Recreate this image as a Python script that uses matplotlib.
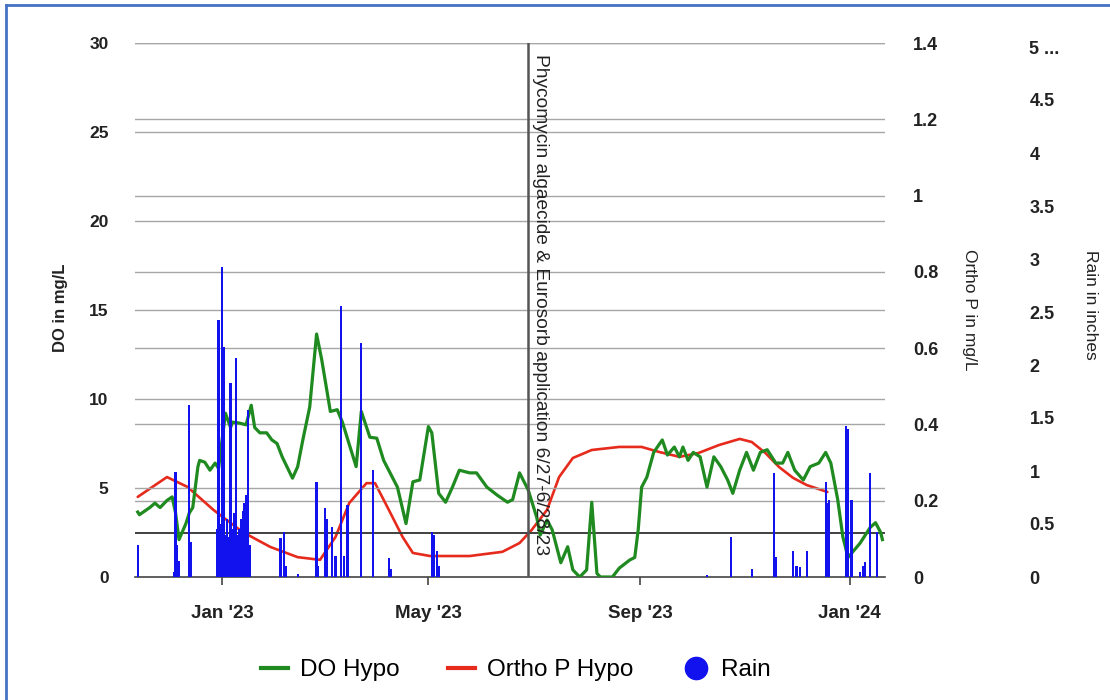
import pandas as pd
import matplotlib.pyplot as plt
import matplotlib.dates as mdates
from matplotlib.lines import Line2D

# dados
do_dates = ["2022-11-13", "2022-11-14", "2022-11-20", "2022-11-23", "2022-11-26", "2022-11-30",
            "2022-12-03", "2022-12-05", "2022-12-07", "2022-12-11", "2022-12-13", "2022-12-15",
            "2022-12-18", "2022-12-19", "2022-12-22", "2022-12-25", "2022-12-28", "2022-12-30",
            "2022-12-31", "2023-01-03", "2023-01-06", "2023-01-07", "2023-01-11", "2023-01-15",
            "2023-01-18", "2023-01-20", "2023-01-23", "2023-01-27", "2023-01-30", "2023-02-02",
            "2023-02-05", "2023-02-11", "2023-02-14", "2023-02-17", "2023-02-21", "2023-02-25",
            "2023-02-28", "2023-03-05", "2023-03-09", "2023-03-12", "2023-03-20", "2023-03-23",
            "2023-03-28", "2023-04-01", "2023-04-05", "2023-04-13", "2023-04-18", "2023-04-22",
            "2023-04-26", "2023-05-01", "2023-05-03", "2023-05-07", "2023-05-11", "2023-05-15",
            "2023-05-19", "2023-05-25", "2023-05-29", "2023-06-04", "2023-06-10", "2023-06-16",
            "2023-06-19", "2023-06-23", "2023-06-28", "2023-07-03", "2023-07-05", "2023-07-09",
            "2023-07-12", "2023-07-17", "2023-07-21", "2023-07-24", "2023-07-28", "2023-08-01",
            "2023-08-04", "2023-08-07", "2023-08-09", "2023-08-16", "2023-08-20", "2023-08-26",
            "2023-08-29", "2023-08-31", "2023-09-02", "2023-09-05", "2023-09-09", "2023-09-14",
            "2023-09-17", "2023-09-21", "2023-09-24", "2023-09-26", "2023-09-29", "2023-10-02",
            "2023-10-06", "2023-10-10", "2023-10-14", "2023-10-18", "2023-10-22", "2023-10-25",
            "2023-10-29", "2023-11-02", "2023-11-06", "2023-11-10", "2023-11-14", "2023-11-19",
            "2023-11-23", "2023-11-26", "2023-11-30", "2023-12-05", "2023-12-09", "2023-12-14",
            "2023-12-18", "2023-12-21", "2023-12-25", "2023-12-28", "2023-12-31", "2024-01-07",
            "2024-01-13", "2024-01-16", "2024-01-19", "2024-01-20"]
do_vals = [3.65, 3.5, 3.9, 4.15, 3.9, 4.3,
           4.5, 3.6, 2.1, 3.0, 3.6, 3.9,
           6.2, 6.55, 6.45, 6.0, 6.4, 6.1,
           6.9, 9.2, 8.4, 8.7, 8.65, 8.55,
           9.65, 8.4, 8.1, 8.1, 7.7, 7.5,
           6.75, 5.55, 6.2, 7.7, 9.55, 13.65,
           12.2, 9.3, 9.4, 8.7, 6.2, 9.3,
           7.85, 7.8, 6.55, 5.05, 3.0, 5.35,
           5.45, 8.45, 8.1, 4.7, 4.2, 5.05,
           6.0, 5.85, 5.85, 5.05, 4.6, 4.2,
           4.35, 5.85, 4.9, 3.35, 2.35, 3.2,
           2.65, 0.8, 1.7, 0.4, 0.0, 0.4,
           4.2, 0.2, 0.0, 0.0, 0.5, 0.95,
           1.1, 2.65, 5.05, 5.6, 7.0, 7.7,
           6.85, 7.3, 6.75, 7.3, 6.55, 7.0,
           6.75, 5.05, 6.75, 6.2, 5.45, 4.7,
           6.0, 7.0, 6.0, 7.0, 7.15, 6.4,
           6.4, 7.0, 6.0, 5.45, 6.2, 6.4,
           7.0, 6.4, 4.35, 2.25, 1.1, 1.9,
           2.8, 3.05, 2.5, 2.1]

op_dates = ["2022-11-13", "2022-11-30", "2022-12-12", "2022-12-27", "2023-01-13", "2023-01-29",
            "2023-02-14", "2023-02-27", "2023-03-08", "2023-03-16", "2023-03-26", "2023-03-31",
            "2023-04-08", "2023-04-16", "2023-04-22", "2023-05-02", "2023-05-25", "2023-06-13",
            "2023-06-23", "2023-06-30", "2023-07-09", "2023-07-16", "2023-07-24", "2023-08-04",
            "2023-08-20", "2023-09-02", "2023-09-12", "2023-09-24", "2023-10-05", "2023-10-17",
            "2023-10-29", "2023-11-05", "2023-11-13", "2023-11-21", "2023-11-29", "2023-12-07",
            "2023-12-19"]
op_vals = [0.21, 0.262, 0.236, 0.176, 0.118, 0.079,
           0.052, 0.045, 0.105, 0.194, 0.246, 0.246,
           0.176, 0.105, 0.063, 0.055, 0.055, 0.066,
           0.089, 0.123, 0.176, 0.262, 0.312, 0.333,
           0.341, 0.341, 0.328, 0.315, 0.325, 0.346,
           0.362, 0.354, 0.325, 0.288, 0.260, 0.241,
           0.223]

rain_dates = ["2022-11-13", "2022-12-04", "2022-12-05", "2022-12-06", "2022-12-07", "2022-12-13",
              "2022-12-14", "2022-12-29", "2022-12-30", "2022-12-31", "2023-01-01", "2023-01-02",
              "2023-01-03", "2023-01-04", "2023-01-05", "2023-01-06", "2023-01-07", "2023-01-08",
              "2023-01-09", "2023-01-10", "2023-01-11", "2023-01-12", "2023-01-13", "2023-01-14",
              "2023-01-15", "2023-01-16", "2023-01-17", "2023-02-04", "2023-02-06", "2023-02-07",
              "2023-02-14", "2023-02-25", "2023-02-26", "2023-03-02", "2023-03-03", "2023-03-06",
              "2023-03-08", "2023-03-11", "2023-03-13", "2023-03-15", "2023-03-23", "2023-03-30",
              "2023-04-08", "2023-04-09", "2023-05-03", "2023-05-04", "2023-05-06", "2023-05-07",
              "2023-10-10", "2023-10-24", "2023-11-05", "2023-11-18", "2023-11-19", "2023-11-29",
              "2023-12-01", "2023-12-03", "2023-12-07", "2023-12-18", "2023-12-19", "2023-12-20",
              "2023-12-30", "2023-12-31", "2024-01-02", "2024-01-07", "2024-01-09", "2024-01-10",
              "2024-01-13", "2024-01-17"]
rain_vals = [0.30, 0.05, 0.99, 0.30, 0.15, 1.62,
             0.33, 0.45, 2.42, 0.50, 2.92, 2.17,
             0.40, 0.55, 0.38, 1.83, 0.45, 0.60,
             2.07, 0.40, 0.45, 0.55, 0.62, 0.70,
             0.77, 1.58, 0.30, 0.37, 0.42, 0.10,
             0.03, 0.90, 0.10, 0.65, 0.55, 0.47,
             0.20, 2.56, 0.20, 0.68, 2.21, 1.01,
             0.18, 0.08, 0.42, 0.40, 0.25, 0.10,
             0.02, 0.38, 0.08, 0.98, 0.19, 0.25,
             0.10, 0.09, 0.25, 0.90, 0.70, 0.73,
             1.42, 1.40, 0.73, 0.05, 0.10, 0.14,
             0.98, 0.42]

do_ticks = [0, 5, 10, 15, 20, 25, 30]
op_ticks = [0, 0.2, 0.4, 0.6, 0.8, 1, 1.2, 1.4]
op_labels = ["0", "0.2", "0.4", "0.6", "0.8", "1", "1.2", "1.4"]
rain_ticks = [0, 0.5, 1, 1.5, 2, 2.5, 3, 3.5, 4, 4.5, 5]
rain_labels = ["0", "0.5", "1", "1.5", "2", "2.5", "3", "3.5", "4", "4.5", "5 ..."]
x_ticks = ["2023-01-01", "2023-05-01", "2023-09-01", "2024-01-01"]
limite_do = 2.5
evento_data = "2023-06-28"
evento_texto = "Phycomycin algaecide & Eurosorb application 6/27-6/28/23"

plt.rcParams["font.family"] = ["Liberation Sans", "DejaVu Sans"]

verde = "#1f8a1f"
vermelho = "#e62a1c"
azul = "#1212ee"
cinza = "#a6a6a6"

fig = plt.figure(figsize=(11.1, 7), dpi=100)
ax = fig.add_axes([135 / 1110, 1 - 577 / 700, 750 / 1110, 534 / 700])
ax2 = ax.twinx()
ax3 = ax.twinx()

# ordem de desenho: fosforo embaixo, OD no meio, chuva por cima
ax2.set_zorder(0)
ax.set_zorder(1)
ax3.set_zorder(2)
ax.patch.set_visible(False)

# Ortho P
ax2.plot(pd.to_datetime(op_dates), op_vals, color=vermelho, lw=1.9, solid_capstyle="round")
ax2.set_ylim(0, 1.4)
ax2.set_yticks(op_ticks, op_labels)
for t in op_ticks[1:]:
    ax2.axhline(t, color=cinza, lw=1, zorder=0)

# OD
for t in do_ticks[1:]:
    ax.axhline(t, color=cinza, lw=1, zorder=0)
ax.axhline(limite_do, color="#404040", lw=1.4, zorder=1)
ax.plot(pd.to_datetime(do_dates), do_vals, color=verde, lw=2.3, zorder=3,
        solid_joinstyle="round")
ax.axvline(pd.to_datetime(evento_data), color="#555555", lw=1.8, zorder=4)
ax.annotate(evento_texto, (pd.to_datetime(evento_data), 30), xytext=(3, -8),
            textcoords="offset points", rotation=-90, ha="left", va="top",
            fontsize=13.8, color="#222222")
ax.set_ylim(0, 30)
ax.set_yticks(do_ticks)

# chuva
ax3.bar(pd.to_datetime(rain_dates), rain_vals, width=1.3, color=azul, linewidth=0)
ax3.set_ylim(0, 5 * 534 / 530)
ax3.set_yticks(rain_ticks, rain_labels)

ax.set_xlim(pd.Timestamp("2022-11-11 10:00"), pd.Timestamp("2024-01-21 12:00"))
ax.set_xticks(pd.to_datetime(x_ticks))
ax.xaxis.set_major_formatter(mdates.DateFormatter("%b '%y"))

for a in (ax, ax2, ax3):
    for lado in ("top", "left", "right"):
        a.spines[lado].set_visible(False)
ax2.spines["bottom"].set_visible(False)
ax3.spines["bottom"].set_visible(False)
ax.spines["bottom"].set_color("#444444")
ax.spines["bottom"].set_linewidth(1.2)

ax.tick_params(axis="x", length=6, width=1.2, color="#444444", pad=14,
               labelsize=13.5, labelcolor="#222222")
ax.tick_params(axis="y", length=0, pad=19, labelsize=12.5, labelcolor="#222222")
ax2.tick_params(axis="y", length=0, pad=20, labelsize=13, labelcolor="#222222")
ax3.tick_params(axis="y", length=0, pad=104, labelsize=13, labelcolor="#222222")
for lab in ax.get_xticklabels() + ax.get_yticklabels() + ax2.get_yticklabels() + ax3.get_yticklabels():
    lab.set_fontweight("bold")

fig.text(60 / 1110, 1 - 308 / 700, "DO in mg/L", rotation=90, ha="center", va="center",
         fontsize=12, fontweight="bold", color="#222222")
fig.text(970 / 1110, 1 - 310 / 700, "Ortho P in mg/L", rotation=-90, ha="center", va="center",
         fontsize=12.5, color="#222222")
fig.text(1090 / 1110, 1 - 305 / 700, "Rain in inches", rotation=-90, ha="center", va="center",
         fontsize=12.5, color="#222222")

handles = [Line2D([], [], color=verde, lw=3),
           Line2D([], [], color=vermelho, lw=3),
           Line2D([], [], marker="o", color="none", markerfacecolor=azul,
                  markeredgecolor=azul, markersize=16)]
fig.legend(handles, ["DO Hypo", "Ortho P Hypo", "Rain"], loc="center",
           bbox_to_anchor=(516 / 1110, 1 - 670 / 700), ncol=3, frameon=False,
           fontsize=17.5, handlelength=1.1, handletextpad=0.5, columnspacing=2.0)

# moldura azul
fig.add_artist(Line2D([6 / 1110, 1], [1 - 5 / 700, 1 - 5 / 700], color="#4472c4", lw=2))
fig.add_artist(Line2D([6 / 1110, 6 / 1110], [0, 1 - 5 / 700], color="#4472c4", lw=2))

plt.savefig("out.png", dpi=100, facecolor="white")
